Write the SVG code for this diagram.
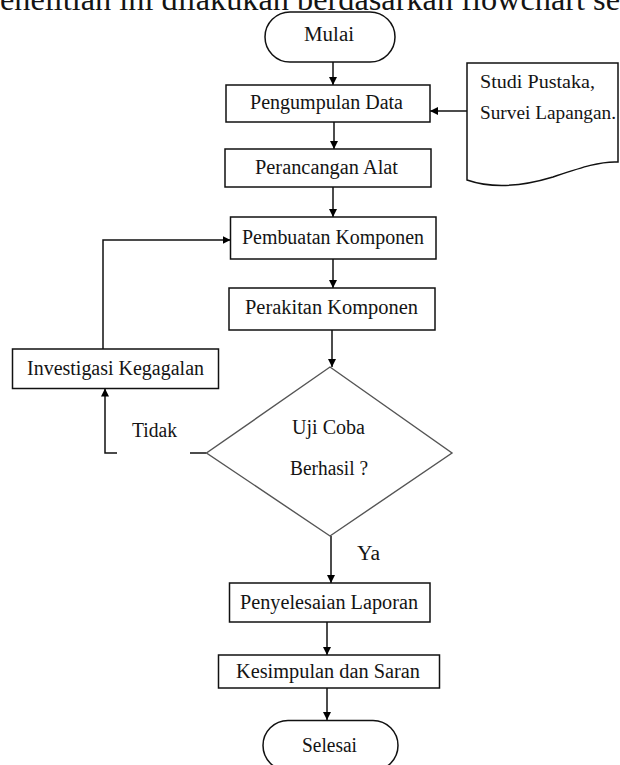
<svg xmlns="http://www.w3.org/2000/svg" width="620" height="765" viewBox="0 0 620 765">
  <defs>
    <marker id="arrow" viewBox="0 0 10 10" refX="10" refY="5" markerWidth="8" markerHeight="8" markerUnits="userSpaceOnUse" orient="auto">
      <path d="M0,0 L10,5 L0,10 z" fill="#000"/>
    </marker>
    <style>
      .box { fill: #fff; stroke: #111; stroke-width: 1.5; }
      .dia { fill: #fff; stroke: #555; stroke-width: 1.4; }
      .lbl { font-family: "Liberation Serif", "Times New Roman", serif; font-size: 20px; fill: #141414; }
      .small { font-size: 18px; }
      .edge { fill: none; stroke: #111; stroke-width: 1.5; }
      .arr { marker-end: url(#arrow); }
    </style>
  </defs>

  <rect width="620" height="765" fill="#fff"/>

  <!-- running text of the page above the chart -->
  <text x="0" y="10" class="lbl" style="font-size:32px" textLength="620" lengthAdjust="spacingAndGlyphs">enelitian ini dilakukan berdasarkan flowchart se</text>

  <g id="connectors">
    <line class="edge arr" x1="333" y1="62" x2="333" y2="85"/>
    <line class="edge arr" x1="467" y1="111" x2="430" y2="111"/>
    <line class="edge arr" x1="334" y1="122" x2="334" y2="149"/>
    <line class="edge arr" x1="333" y1="187" x2="333" y2="217"/>
    <polyline class="edge arr" points="103,349 103,240 230.5,240"/>
    <line class="edge arr" x1="333" y1="259" x2="333" y2="288"/>
    <line class="edge arr" x1="332" y1="330" x2="332" y2="367"/>
    <line class="edge" x1="206.5" y1="453" x2="190" y2="453"/>
    <polyline class="edge arr" points="117,453 105,453 105,388.5"/>
    <line class="edge arr" x1="331" y1="536" x2="331" y2="583"/>
    <line class="edge arr" x1="327" y1="622" x2="327" y2="655"/>
    <line class="edge arr" x1="327" y1="688" x2="327" y2="720"/>
  </g>

  <g id="mulai">
    <rect class="box" x="265" y="12" width="130" height="50" rx="25" ry="25"/>
    <text class="lbl" x="304" y="41" textLength="50" lengthAdjust="spacingAndGlyphs">Mulai</text>
  </g>

  <g id="pengumpulan-data">
    <rect class="box" x="226" y="85" width="204" height="37"/>
    <text class="lbl" x="250" y="109" textLength="153" lengthAdjust="spacingAndGlyphs">Pengumpulan Data</text>
  </g>

  <g id="sumber-data">
    <path class="box" d="M467,180 V63 H618 V162 C600,161 580,168 553,177 C520,187 490,188 467,180 Z"/>
    <text class="lbl small" x="480" y="88" textLength="115" lengthAdjust="spacingAndGlyphs">Studi Pustaka,</text>
    <text class="lbl small" x="480" y="119" textLength="136" lengthAdjust="spacingAndGlyphs">Survei Lapangan.</text>
  </g>

  <g id="perancangan-alat">
    <rect class="box" x="225" y="149" width="206" height="38"/>
    <text class="lbl" x="255" y="174" textLength="143" lengthAdjust="spacingAndGlyphs">Perancangan Alat</text>
  </g>

  <g id="pembuatan-komponen">
    <rect class="box" x="230.5" y="217" width="205.5" height="42"/>
    <text class="lbl" x="242" y="244" textLength="182" lengthAdjust="spacingAndGlyphs">Pembuatan Komponen</text>
  </g>

  <g id="perakitan-komponen">
    <rect class="box" x="229" y="288" width="206" height="42"/>
    <text class="lbl" x="245" y="314" textLength="173" lengthAdjust="spacingAndGlyphs">Perakitan Komponen</text>
  </g>

  <g id="investigasi-kegagalan">
    <rect class="box" x="12.5" y="349" width="206" height="39.5"/>
    <text class="lbl" x="27" y="375" textLength="177" lengthAdjust="spacingAndGlyphs">Investigasi Kegagalan</text>
  </g>

  <g id="uji-coba">
    <polygon class="dia" points="330,367 452,453 330,536 206.5,453"/>
    <text class="lbl" x="292" y="434" textLength="73" lengthAdjust="spacingAndGlyphs">Uji Coba</text>
    <text class="lbl" x="290" y="475" textLength="78" lengthAdjust="spacingAndGlyphs">Berhasil ?</text>
  </g>

  <text class="lbl" x="132" y="437" textLength="45" lengthAdjust="spacingAndGlyphs">Tidak</text>
  <text class="lbl" x="357" y="560" textLength="23" lengthAdjust="spacingAndGlyphs">Ya</text>

  <g id="penyelesaian-laporan">
    <rect class="box" x="229.5" y="583" width="200.5" height="39"/>
    <text class="lbl" x="240" y="608.5" textLength="178" lengthAdjust="spacingAndGlyphs">Penyelesaian Laporan</text>
  </g>

  <g id="kesimpulan-saran">
    <rect class="box" x="218.5" y="655" width="221" height="33"/>
    <text class="lbl" x="236" y="678" textLength="184" lengthAdjust="spacingAndGlyphs">Kesimpulan dan Saran</text>
  </g>

  <g id="selesai">
    <rect class="box" x="263" y="720.5" width="135" height="50" rx="25" ry="25"/>
    <text class="lbl" x="302" y="751.5" textLength="55" lengthAdjust="spacingAndGlyphs">Selesai</text>
  </g>
</svg>
